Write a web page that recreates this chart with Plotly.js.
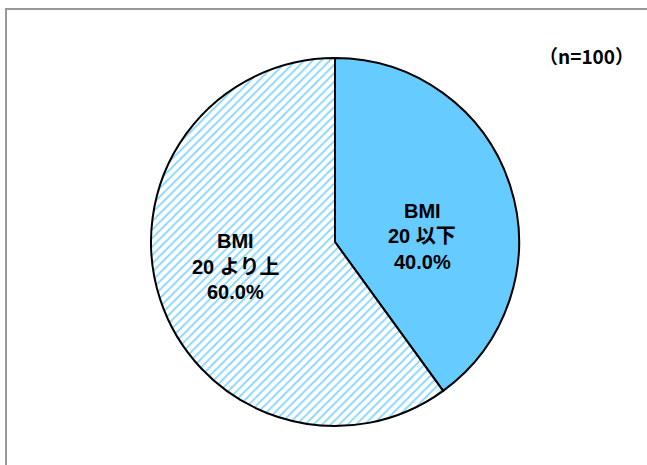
<!DOCTYPE html>
<html><head><meta charset="utf-8">
<script src="https://cdn.plot.ly/plotly-3.0.1.min.js"></script>
<style>html,body{margin:0;padding:0;background:#fff;}#chart{width:647px;height:465px;}</style>
</head><body><div id="chart"></div>
<script>
const categories = ["BMI|20 以下", "BMI|20 より上"];
const values = [40.0, 60.0];
const sampleNote = "（n=100）";

const fontFam = "'Liberation Sans', 'Noto Sans CJK JP', sans-serif";
const labelPos = [[422, 211], [235, 241]];
const lineGap = 25.5;
const W = 647, H = 465;

const annotations = [];
categories.forEach((c, i) => {
  const lines = c.split("|").concat([values[i].toFixed(1) + "%"]);
  lines.forEach((t, j) => {
    annotations.push({
      text: "<b>" + t + "</b>",
      x: labelPos[i][0] / W, y: 1 - (labelPos[i][1] + j * lineGap) / H,
      xref: "paper", yref: "paper", showarrow: false,
      font: {family: fontFam, size: 20, color: "#000"}
    });
  });
});
annotations.push({
  text: "<b>" + sampleNote + "</b>", x: 636 / W, y: 1 - 40 / H,
  xref: "paper", yref: "paper", xanchor: "right", showarrow: false,
  font: {family: "'Noto Sans CJK JP', sans-serif", size: 19, color: "#000"}
});

const data = [{
  type: "pie",
  labels: categories,
  values: values,
  sort: false,
  direction: "clockwise",
  rotation: 0,
  textinfo: "none",
  hoverinfo: "none",
  domain: {x: [151 / W, 519 / W], y: [1 - 426 / H, 1 - 58 / H]},
  marker: {
    colors: ["#66CCFF", "#FFFFFF"],
    line: {color: "#000", width: 2},
    pattern: {shape: ["", "/"], fgcolor: "#7FD4FF", bgcolor: "#FFFFFF", size: 6, solidity: 0.3}
  }
}];

const layout = {
  width: W, height: H,
  margin: {l: 0, r: 0, t: 0, b: 0},
  showlegend: false,
  paper_bgcolor: "#fff",
  annotations: annotations,
  shapes: [{type: "rect", xref: "paper", yref: "paper",
    x0: 6 / W, x1: 1.05, y0: -0.05, y1: 1 - 9 / H,
    line: {color: "#999", width: 2}}]
};
Plotly.newPlot("chart", data, layout, {staticPlot: true});
</script></body></html>
